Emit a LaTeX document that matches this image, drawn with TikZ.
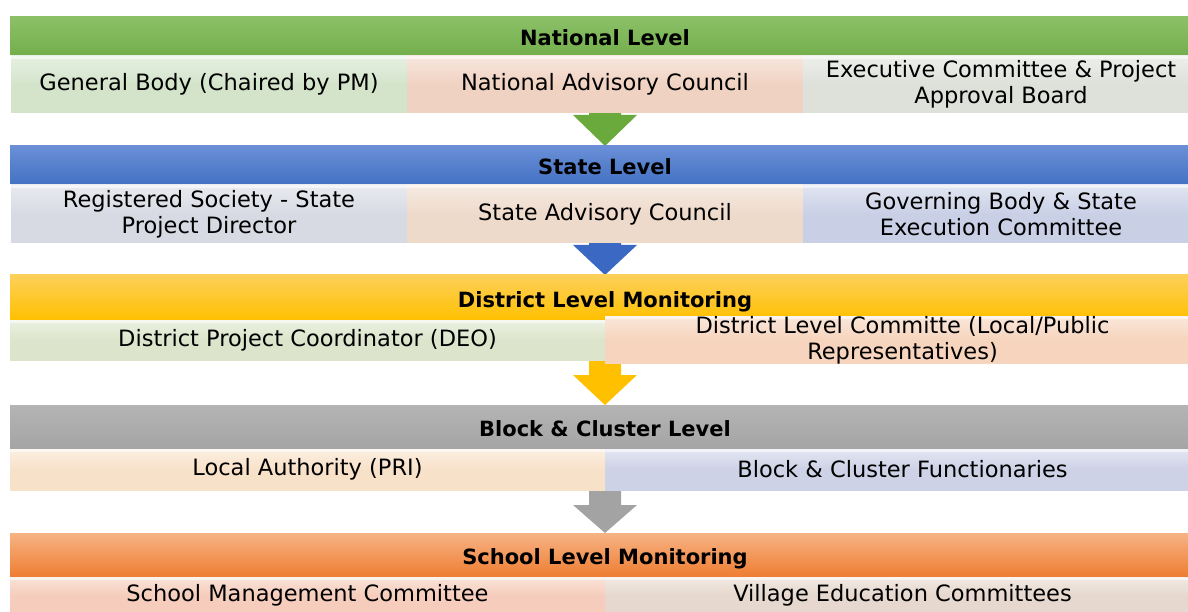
\documentclass[tikz,border=0pt]{standalone}
\usepackage{fontspec}
\setmainfont{DejaVu Sans}
\usetikzlibrary{shapes.geometric}
\definecolor{gH}{HTML}{74AF4C}\definecolor{gHt}{HTML}{8CC068}
\definecolor{bH}{HTML}{4472C4}\definecolor{bHt}{HTML}{6A8FD6}
\definecolor{yH}{HTML}{FFC000}\definecolor{yHt}{HTML}{FDD05A}
\definecolor{kH}{HTML}{A5A5A5}\definecolor{kHt}{HTML}{B4B4B4}
\definecolor{oH}{HTML}{EE7D31}\definecolor{oHt}{HTML}{F7B385}
\definecolor{cGa}{HTML}{D3E4CB}\definecolor{cNa}{HTML}{F0D2C2}\definecolor{cEa}{HTML}{DDE1DA}
\definecolor{cRb}{HTML}{D7DAE3}\definecolor{cSb}{HTML}{EEDACB}\definecolor{cGb}{HTML}{C9D0E6}
\definecolor{cDc}{HTML}{DCE5CB}\definecolor{cLc}{HTML}{F6D4BD}
\definecolor{cAd}{HTML}{F8E1C9}\definecolor{cBd}{HTML}{CDD2E6}
\definecolor{cSe}{HTML}{F6CDBC}\definecolor{cVe}{HTML}{E6D8CE}
\definecolor{aG}{HTML}{6AAA3C}\definecolor{aB}{HTML}{3B68C2}
\definecolor{aY}{HTML}{FFC000}\definecolor{aK}{HTML}{A3A3A3}
\tikzset{
  hdr/.style n args={3}{rectangle, inner sep=0pt, minimum width=1190pt, minimum height=#1,
     text height=20pt, text depth=1pt,
     top color=#3, bottom color=#2, font=\fontsize{21}{24}\selectfont\bfseries, anchor=center},
  sub/.style n args={3}{rectangle, inner sep=0pt, minimum width=#1, minimum height=#2,
     top color=white!45!#3, bottom color=#3, middle color=#3, align=center,
     font=\fontsize{22.5}{26}\selectfont, anchor=center,
     path picture={\fill[white,opacity=.55] (path picture bounding box.north west) rectangle ([yshift=-3pt]path picture bounding box.north east);}},
}
\begin{document}
\begin{tikzpicture}[x=1pt,y=-1pt]
\useasboundingbox (0,0) rectangle (1188,612);
% arrows (behind)
\foreach \nm/\top/\hb/\tip/\col in {a1/88/115/146/aG, a2/218/245/275/aB, a3/345/375/405/aY, a4/475/505/533/aK}{
  \fill[\col] (589,\top) -- (621,\top) -- (621,\hb) -- (637,\hb) -- (605,\tip) -- (573,\hb) -- (589,\hb) -- cycle;
}
% Level 1
\node[hdr={38pt}{gH}{gHt}] (h1) at (605,36) {National Level};
\node[sub={396pt}{57pt}{cGa}] (s11) at (209,84.5) {General Body (Chaired by PM)};
\node[sub={396pt}{57pt}{cNa}] (s12) at (605,84.5) {National Advisory Council};
\node[sub={396pt}{57pt}{cEa}] (s13) at (1001,84.5) {Executive Committee \& Project\\Approval Board};
% Level 2
\node[hdr={38pt}{bH}{bHt}] (h2) at (605,165) {State Level};
\node[sub={396pt}{58pt}{cRb}] (s21) at (209,214) {Registered Society - State\\Project Director};
\node[sub={396pt}{58pt}{cSb}] (s22) at (605,214) {State Advisory Council};
\node[sub={396pt}{58pt}{cGb}] (s23) at (1001,214) {Governing Body \& State\\Execution Committee};
% Level 3
\node[hdr={45pt}{yH}{yHt}] (h3) at (605,297.5) {District Level Monitoring};
\node[sub={595pt}{40pt}{cDc}] (s31) at (307.5,340) {District Project Coordinator (DEO)};
\node[sub={595pt}{40pt}{cLc}] (s32) at (902.5,340) {District Level Committe (Local/Public\\Representatives)};
% Level 4
\node[hdr={43pt}{kH}{kHt}] (h4) at (605,426.5) {Block \& Cluster Level};
\node[sub={595pt}{41pt}{cAd}] (s41) at (307.5,469.5) {Local Authority (PRI)};
\node[sub={595pt}{41pt}{cBd}] (s42) at (902.5,469.5) {Block \& Cluster Functionaries};
% Level 5
\node[hdr={44pt}{oH}{oHt}] (h5) at (605,555) {School Level Monitoring};
\node[sub={595pt}{36pt}{cSe}] (s51) at (307.5,595) {School Management Committee};
\node[sub={595pt}{36pt}{cVe}] (s52) at (902.5,595) {Village Education Committees};
\end{tikzpicture}
\end{document}
